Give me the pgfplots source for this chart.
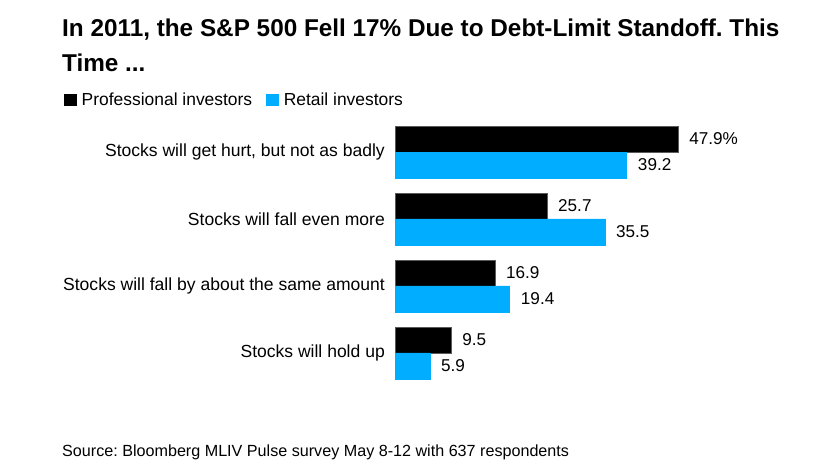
\documentclass[border=0pt]{standalone}
\usepackage{pgfplots}
\pgfplotsset{compat=1.18}
\usepackage{fontspec}
\setmainfont{Liberation Sans}
\frenchspacing
\definecolor{bbblue}{RGB}{0,173,255}
\definecolor{bbedge}{RGB}{90,90,90}
\begin{document}
\begin{tikzpicture}
\path[fill=white] (0bp,0bp) rectangle (831bp,467bp);
\node[anchor=base west, inner sep=0pt, font=\bfseries\fontsize{24.4}{28}\selectfont] at (62bp,430bp) {In 2011, the S\&P 500 Fell 17\% Due to Debt-Limit Standoff. This};
\node[anchor=base west, inner sep=0pt, font=\bfseries\fontsize{24.4}{28}\selectfont] at (62bp,395bp) {Time ...};
\node[anchor=base west, inner sep=0pt, font=\fontsize{16.2}{20}\selectfont] at (62bp,10.5bp) {Source: Bloomberg MLIV Pulse survey May 8-12 with 637 respondents};
\begin{axis}[
  at={(395bp,80.5bp)}, anchor=south west,
  scale only axis, width=295.5bp, height=268bp,
  xmin=0, xmax=50, ymin=-0.5, ymax=3.5,
  xbar, bar width=0.388,
  axis line style={draw=none}, major tick length=0pt,
  xtick=\empty,
  ytick={0,1,2,3},
  yticklabels={Stocks will hold up, Stocks will fall by about the same amount, Stocks will fall even more, {Stocks will get hurt, but not as badly}},
  yticklabel style={font=\fontsize{17.6}{20}\selectfont, anchor=east, inner sep=0pt, xshift=-10bp},
  clip=false,
  point meta=explicit symbolic,
  nodes near coords,
  every node near coord/.append style={font=\fontsize{17.2}{20}\selectfont, anchor=west, inner sep=0pt, xshift=11bp, text=black},
  legend style={at={(axis description cs:-1.1201,1.095)}, anchor=north west, draw=none, fill=none,
    font=\fontsize{17.5}{20}\selectfont, legend columns=-1, inner sep=0pt,
    /tikz/every odd column/.append style={column sep=4.5bp},
    /tikz/every even column/.append style={column sep=14bp},
    nodes={inner sep=0pt}},
  legend image code/.code={\fill[#1,draw=none] (0bp,-6bp) rectangle (13bp,6bp);},
]
\addplot[fill=black, draw=bbedge, line width=0.6pt, bar shift=0.194] coordinates {
  (47.9,3) [47.9\%]
  (25.7,2) [25.7]
  (16.9,1) [16.9]
  (9.5,0) [9.5]
};
\addlegendentry{Professional investors}
\addplot[fill=bbblue, draw=bbblue, line width=0.6pt, bar shift=-0.194] coordinates {
  (39.2,3) [39.2]
  (35.5,2) [35.5]
  (19.4,1) [19.4]
  (5.9,0) [5.9]
};
\addlegendentry{Retail investors}
\end{axis}
\end{tikzpicture}
\end{document}
